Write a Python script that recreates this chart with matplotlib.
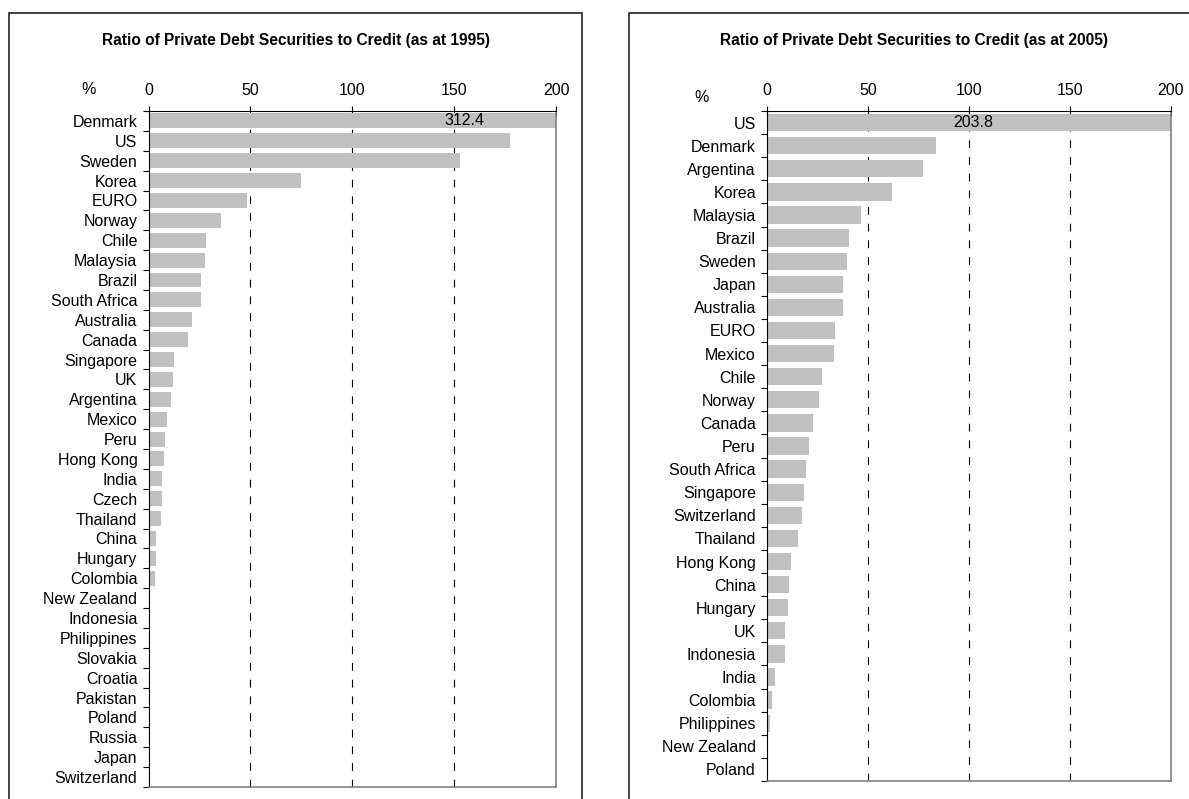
import matplotlib.pyplot as plt
from matplotlib.patches import Rectangle
import numpy as np

plt.rcParams['font.family'] = ['Liberation Sans', 'DejaVu Sans']

# ratio of private debt securities to credit, %
countries_1995 = ['Denmark', 'US', 'Sweden', 'Korea', 'EURO', 'Norway', 'Chile',
                  'Malaysia', 'Brazil', 'South Africa', 'Australia', 'Canada',
                  'Singapore', 'UK', 'Argentina', 'Mexico', 'Peru', 'Hong Kong',
                  'India', 'Czech', 'Thailand', 'China', 'Hungary', 'Colombia',
                  'New Zealand', 'Indonesia', 'Philippines', 'Slovakia', 'Croatia',
                  'Pakistan', 'Poland', 'Russia', 'Japan', 'Switzerland']
values_1995 = [312.4, 177.4, 152.8, 75.0, 48.5, 35.4, 28.4, 27.8, 26.0, 26.0,
               21.4, 19.6, 12.6, 12.2, 11.1, 9.2, 8.3, 7.7, 6.8, 6.8, 6.2, 3.8,
               3.8, 3.4, 0, 0, 0, 0, 0, 0, 0, 0, 0, 0]

countries_2005 = ['US', 'Denmark', 'Argentina', 'Korea', 'Malaysia', 'Brazil',
                  'Sweden', 'Japan', 'Australia', 'EURO', 'Mexico', 'Chile',
                  'Norway', 'Canada', 'Peru', 'South Africa', 'Singapore',
                  'Switzerland', 'Thailand', 'Hong Kong', 'China', 'Hungary', 'UK',
                  'Indonesia', 'India', 'Colombia', 'Philippines', 'New Zealand',
                  'Poland']
values_2005 = [203.8, 83.8, 77.4, 62.0, 46.6, 40.8, 39.8, 37.7, 37.7, 33.8, 33.4,
               27.0, 25.8, 23.0, 20.9, 19.4, 18.5, 17.5, 15.5, 12.1, 11.1, 10.6,
               9.1, 8.7, 3.8, 2.3, 1.3, 0, 0]

W, H = 1189, 799
fig = plt.figure(figsize=(W / 100, H / 100), dpi=100)


def px(x0, y0, x1, y1):
    # pixel box (top-left origin) -> figure fraction rect
    return [x0 / W, 1 - y1 / H, (x1 - x0) / W, (y1 - y0) / H]


def panel(rect, names, vals, title, tx, pct, lab_x):
    ax = fig.add_axes(rect)
    y = np.arange(len(names))
    ax.barh(y, vals, height=0.75, color='#c0c0c0', zorder=2)
    ax.set_xlim(0, 200)
    ax.set_ylim(len(names) - 0.5, -0.5)
    ax.set_xticks([0, 50, 100, 150, 200])
    ax.xaxis.tick_top()
    ax.tick_params(axis='x', direction='inout', length=7, width=0.8,
                   labelsize=11.5, pad=6)
    ax.set_yticks(y)
    ax.set_yticklabels(names)
    ax.set_yticks(np.arange(len(names) + 1) - 0.5, minor=True)
    ax.tick_params(axis='y', which='major', length=0, labelsize=11.5, pad=8)
    ax.tick_params(axis='y', which='minor', length=4, width=0.8)
    for v in [50, 100, 150]:
        ax.axvline(v, color='black', lw=0.8, dashes=(7, 8), zorder=1)
    for s in ['left', 'top']:
        ax.spines[s].set_color('black')
        ax.spines[s].set_linewidth(0.8)
    for s in ['right', 'bottom']:
        ax.spines[s].set_color('#808080')
        ax.spines[s].set_linewidth(1.2)
    ax.text(lab_x, 0, f'{vals[0]:.1f}', ha='center', va='center', fontsize=11.5,
            zorder=3)
    fig.text(tx / W, 1 - 41 / H, title, ha='center', va='center',
             fontsize=11.2, fontweight='bold')
    fig.text(pct[0] / W, 1 - pct[1] / H, '%', ha='center', va='center',
             fontsize=11.5)
    return ax


panel(px(148.5, 111, 556, 787), countries_1995, values_1995,
      'Ratio of Private Debt Securities to Credit (as at 1995)', 295.5, (89, 89), 155)
panel(px(767, 111, 1171, 781), countries_2005, values_2005,
      'Ratio of Private Debt Securities to Credit (as at 2005)', 914, (702, 97), 102)

# panel frames
fig.patches.append(Rectangle((9.3 / W, -0.1), (581.7 - 9.3) / W, 1.1 - 12.7 / H,
                             transform=fig.transFigure, fill=False,
                             edgecolor='#222222', lw=1.2))
fig.patches.append(Rectangle((628.7 / W, -0.1), 0.6, 1.1 - 12.7 / H,
                             transform=fig.transFigure, fill=False,
                             edgecolor='#222222', lw=1.2))

fig.savefig('out.png', dpi=100)
